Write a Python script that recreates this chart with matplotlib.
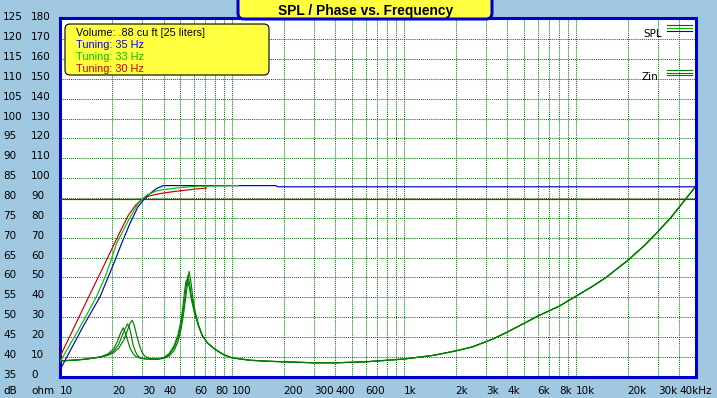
import numpy as np
import matplotlib
matplotlib.use('Agg')
import matplotlib.pyplot as plt
from matplotlib.patches import FancyBboxPatch
from matplotlib.ticker import FixedLocator, NullLocator
from matplotlib.transforms import blended_transform_factory, offset_copy

# ---- data ----
# SPL curves (dB), one per port tuning
spl30_f  = [10, 12.5, 15, 17.5, 20, 22.5, 25, 27.5, 30, 33, 38, 44, 50, 60, 71]
spl30_db = [40.6, 49.3, 56.4, 62.3, 67.5, 72.1, 76.0, 78.5, 80.0, 80.8, 81.4, 81.8, 82.1, 82.5, 82.8]

spl33_f  = [10, 13.1, 16.3, 18.3, 19.8, 21.3, 25, 28.4, 31.9, 36, 40, 50, 62, 109]
spl33_db = [39.3, 48.1, 55.6, 60.6, 64.7, 68.9, 74.7, 78.9, 81.0, 82.0, 82.4, 82.9, 83.25, 83.4]

spl35_f  = [10, 13.6, 17.1, 19.1, 20.9, 22.8, 25.5, 28.4, 31.9, 36.5, 40, 180, 185, 50000]
spl35_db = [37.3, 48.1, 55.6, 60.6, 64.7, 68.9, 73.9, 78.1, 80.75, 82.7, 83.4, 83.4, 83.1, 83.1]

ref_level_db = 80

# impedance (ohm), low-frequency part per tuning
zin30_f = [10, 12, 14, 16, 17.5, 19, 20.5, 21.5, 22.5, 23.3, 24, 24.7, 25.5, 26.5, 27.5, 29, 31, 34, 37, 40,
           43, 46, 48.5, 50.5, 52, 53, 54, 55, 56.5, 58, 61, 64, 67, 72, 80, 90]
zin30_z = [8.0, 8.3, 8.8, 9.5, 10.2, 11.5, 14.0, 17.5, 22.0, 24.6, 22.0, 18.5, 14.6, 11.8, 10.3, 9.4, 9.0, 8.8, 8.9, 9.6,
           11.5, 15.5, 21, 28, 36, 43, 48, 49, 45, 39, 31, 25.5, 21, 17, 13.7, 11.0]

zin33_f = [10, 12, 14, 16, 17.5, 19, 20.5, 22, 23.2, 24, 24.7, 25.4, 26, 26.6, 27.5, 28.4, 29.5, 31, 34, 37, 40,
           43, 46, 48.5, 50.5, 52, 53.5, 54.5, 55.5, 56.5, 58, 61, 64, 67, 72, 80, 90]
zin33_z = [8.0, 8.3, 8.8, 9.5, 10.1, 11.0, 12.8, 16.5, 21.5, 24.5, 26.6, 24.5, 20.5, 16.0, 12.5, 10.5, 9.5, 9.0, 8.8, 8.9, 9.5,
           11.0, 14.5, 19.5, 26, 33, 41, 47, 51, 48, 41, 32, 25.5, 21, 17, 13.7, 11.0]

zin35_f = [10, 12, 14, 16, 17.5, 19, 20.5, 22, 23.5, 24.7, 25.6, 26.3, 27, 27.9, 28.8, 29.8, 31, 32, 34, 37, 40,
           43, 46, 48.5, 50.5, 52, 53.5, 55, 56.3, 57.5, 59, 61, 64, 67, 72, 80, 90]
zin35_z = [8.0, 8.3, 8.8, 9.5, 10.0, 10.8, 12.0, 14.5, 18.5, 23.5, 27, 28.4, 26, 21, 16.5, 12.8, 10.5, 9.8, 9.0, 8.8, 9.2,
           10.3, 13, 17.5, 23.5, 30, 38, 46, 53, 49, 41, 33, 26, 21, 17, 13.7, 11.0]

# impedance above 100 Hz (all three curves coincide)
zin_hi_f = [100, 127, 160, 200, 300, 400, 600, 1000, 1500, 2000, 2500, 3300, 4000, 6100, 8000,
            10000, 12500, 15000, 20000, 25000, 30000, 36000, 44000, 50000]
zin_hi_z = [9.5, 8.3, 7.8, 7.5, 7.0, 7.0, 7.5, 8.9, 10.8, 13.0, 15.0, 19.0, 22.5, 30.8, 35.5,
            40.5, 45.5, 50, 58.5, 66, 73, 80.5, 90, 96]

grid_freqs = [10, 20, 30, 40, 50, 60, 70, 80, 90, 100, 200, 300, 400, 500, 600, 700, 800, 900,
              1000, 2000, 3000, 4000, 5000, 6000, 7000, 8000, 9000, 10000, 20000, 30000, 40000]
xlabel_freqs = [10, 20, 30, 40, 60, 80, 100, 200, 300, 400, 600, 1000, 2000, 3000, 4000,
                6000, 8000, 10000, 20000, 30000, 40000]
xlabel_text = ['10', '20', '30', '40', '60', '80', '100', '200', '300', '400', '600', '1k', '2k', '3k',
               '4k', '6k', '8k', '10k', '20k', '30k', '40kHz']
ohm_ticks = list(range(0, 181, 10))
db_ticks = list(range(35, 126, 5))

info_lines = ['Volume: .88 cu ft [25 liters]', 'Tuning: 35 Hz', 'Tuning: 33 Hz', 'Tuning: 30 Hz']

# ---- colours ----
BG = '#a0c8e0'
FRAME = '#0000c8'
GRID = '#008000'
RED, GREEN, BLUE, ZIN = '#c80000', '#00c000', '#0000c0', '#008000'
YELLOW = '#ffff40'

W, H = 717, 398
fig = plt.figure(figsize=(W / 100, H / 100), dpi=100, facecolor=BG)

# main plot area (ohm scale)
ax = fig.add_axes([60 / W, 1 - 376.7 / H, 636 / W, 358.4 / H])
ax.set_facecolor('white')
ax.set_xscale('log')
ax.set_xlim(10, 50000)
ohm_lim = (1.2, 180.5)
ax.set_ylim(*ohm_lim)
ax.xaxis.set_major_locator(FixedLocator(grid_freqs))
ax.xaxis.set_minor_locator(NullLocator())
ax.set_yticks(ohm_ticks)
ax.tick_params(length=0, labelbottom=False, labelleft=False)
ax.grid(True, color=GRID, lw=0.75, linestyle=(0, (1, 1)))
for s in ax.spines.values():
    s.set_color(FRAME)
    s.set_linewidth(2.2)
    s.set_zorder(5)

for f, z in [(zin30_f, zin30_z), (zin33_f, zin33_z), (zin35_f, zin35_z)]:
    ax.plot(np.concatenate([f, zin_hi_f]), np.concatenate([z, zin_hi_z]), color=ZIN, lw=0.85)

# SPL on the dB scale (dB = 35 + ohm / 2)
ax2 = ax.twinx()
ax2.set_ylim(35 + ohm_lim[0] / 2, 35 + ohm_lim[1] / 2)
ax2.set_yticks([])
for s in ax2.spines.values():
    s.set_visible(False)
ax2.axhline(ref_level_db, color=RED, lw=0.85)
ax2.plot(spl30_f, spl30_db, color=RED, lw=0.85)
ax2.plot(spl35_f, spl35_db, color=BLUE, lw=0.85)
ax2.plot(spl33_f, spl33_db, color=GREEN, lw=0.85)

# overlay in pixel coordinates for labels and boxes
ov = fig.add_axes([0, 0, 1, 1])
ov.set_xlim(0, W)
ov.set_ylim(H, 0)
ov.axis('off')

lab = dict(fontfamily='DejaVu Sans', fontsize=7.5, color='black')

# x labels, left-aligned at each grid line
xt = blended_transform_factory(ax.transData, ov.transData)
for f, t in zip(xlabel_freqs, xlabel_text):
    ov.text(f, 394.5, t, transform=xt, ha='left', va='baseline', **lab)

# y labels: dB column and ohm column
yt = offset_copy(blended_transform_factory(ov.transData, ax.transData), fig=fig, x=0, y=-1, units='dots')
for o, d in zip(ohm_ticks, db_ticks):
    ov.text(3, o, str(d), transform=yt, ha='left', va='baseline', **lab)
    ov.text(31, o, str(o), transform=yt, ha='left', va='baseline', **lab)
ov.text(3, 394.5, 'dB', ha='left', va='baseline', **lab)
ov.text(31, 394.5, 'ohm', ha='left', va='baseline', **lab)

# title tab
ov.add_patch(FancyBboxPatch((238, -6), 254, 25, boxstyle='round,pad=0,rounding_size=6',
                            fc=YELLOW, ec=FRAME, lw=2.2, clip_on=False, zorder=6))
ov.text(365.5, 15, 'SPL / Phase vs. Frequency', ha='center', va='baseline',
        fontfamily='Liberation Sans', fontweight='bold', fontsize=9.9, zorder=7)

# info box
ov.add_patch(FancyBboxPatch((65, 24), 204, 51, boxstyle='round,pad=0,rounding_size=5',
                            fc=YELLOW, ec='black', lw=0.8, zorder=6))
for i, (t, c) in enumerate(zip(info_lines, ['black', '#0000ff', '#00c000', '#c80000'])):
    ov.text(76, 36.5 + 12 * i, t, color=c, ha='left', va='baseline',
            fontfamily='Liberation Sans', fontsize=7.8, zorder=7)

# right-hand key
ov.text(643, 36.7, 'SPL', ha='left', va='baseline', **lab)
ov.text(642, 80, 'Zin', ha='left', va='baseline', **lab)
for yy, c in zip([25.3, 28.3, 31.3], [RED, GREEN, BLUE]):
    ov.plot([667, 692], [yy, yy], color=c, lw=0.8)
for yy in [70.3, 72.8, 75.3]:
    ov.plot([667, 692], [yy, yy], color=ZIN, lw=0.8)

fig.savefig('out.png', dpi=100, facecolor=BG)
